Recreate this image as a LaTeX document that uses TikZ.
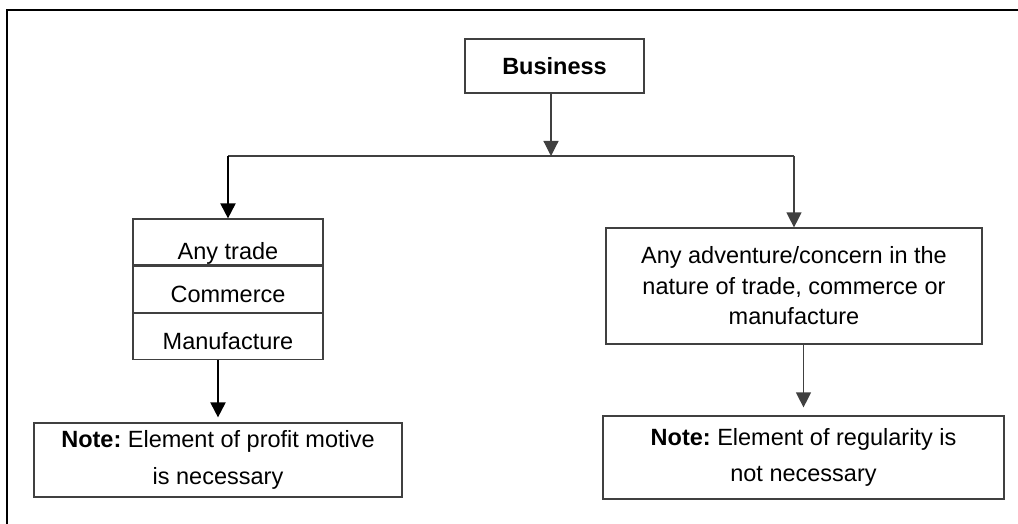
\documentclass[tikz,border=0pt]{standalone}
\usepackage{fontspec}
\setmainfont{Liberation Sans}
\usetikzlibrary{positioning,arrows.meta}
\frenchspacing
\tikzset{
	box/.style={draw=black!75, line width=0.6pt, inner sep=0pt, align=center, font=\fontsize{11.75}{15.25}\selectfont},
	cell/.style={box, minimum width=95pt, minimum height=23pt, text height=18pt, text depth=5pt},
	notebox/.style={box, font=\fontsize{11.75}{18.25}\selectfont},
	link/.style={draw=black!75, line width=0.6pt},
	arr/.style={link, -{Triangle[length=7.5pt,width=7.5pt]}},
	thickarr/.style={arr, draw=black, line width=1pt}
}
\begin{document}
\begin{tikzpicture}[x=0.5pt,y=-0.5pt]
	\useasboundingbox (0,0) rectangle (1018,524);
	% frame
	\draw[line width=1pt] (7,524) -- (7,10) -- (1018,10);
	\node[box, minimum width=89.5pt, minimum height=27pt] (biz) at (554.5,66) {\textbf{Business}};
	\coordinate (split) at (551,156);
	% left stack
	\node[cell, text height=20pt, text depth=3pt] (trade) at (228,242) {Any trade};
	\node[cell, below=0pt of trade] (comm) {Commerce};
	\node[cell, below=0pt of comm] (manu) {Manufacture};
	\node[box, minimum width=188pt, minimum height=58pt] (adv) at (794,286) {Any adventure/concern in the\\nature of trade, commerce or\\manufacture};
	% notes
	\node[notebox, minimum width=184pt, minimum height=37pt] (lnote) at (218,460) {\textbf{Note:} Element of profit motive\\is necessary};
	\node[notebox, minimum width=200.5pt, minimum height=41.5pt] (rnote) at (803.5,457.5) {\textbf{Note:} Element of regularity is\\not necessary};
	\draw[arr] (biz.south -| split) -- (split);
	\draw[link] (trade.north |- split) -- (adv.north |- split);
	\draw[thickarr] (trade.north |- split) -- (trade.north);
	\draw[arr] (adv.north |- split) -- (adv.north);
	\draw[thickarr, shorten >=2.5pt] (manu.south -| lnote.north) -- (lnote.north);
	\draw[arr, shorten >=4pt] (adv.south -| rnote.north) -- (rnote.north);
\end{tikzpicture}
\end{document}
